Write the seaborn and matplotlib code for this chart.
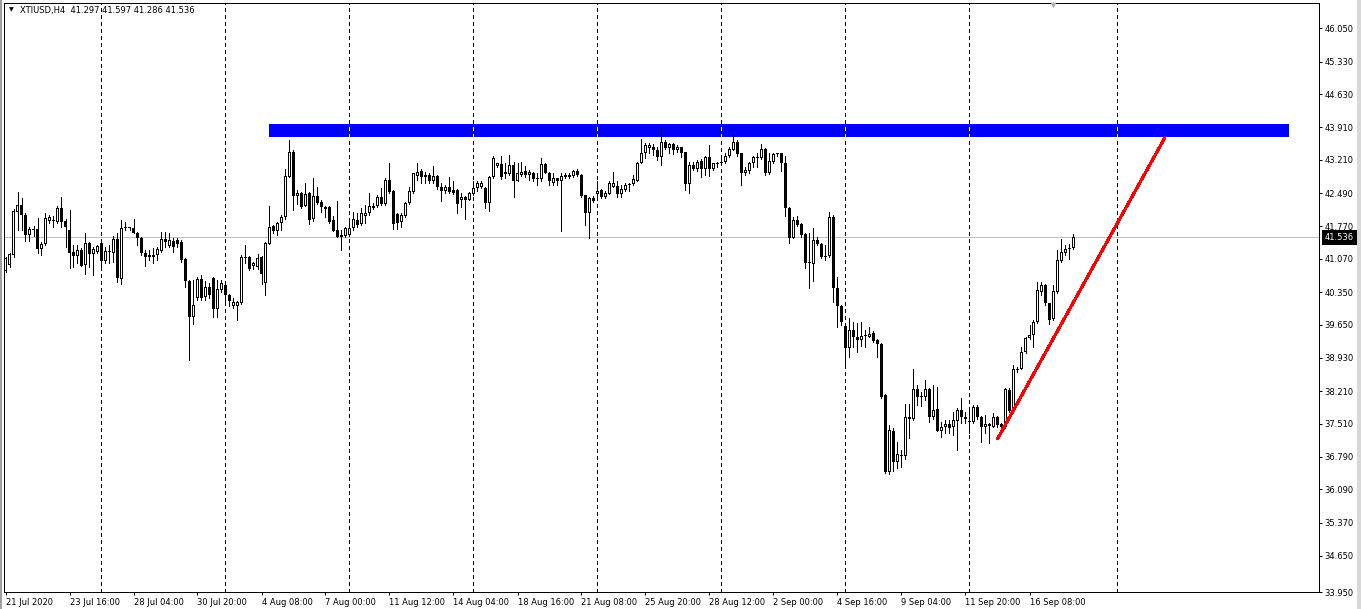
import numpy as np
import pandas as pd
import matplotlib
matplotlib.use("Agg")
import matplotlib.pyplot as plt
import matplotlib.transforms as mtransforms
from matplotlib.patches import Rectangle
import seaborn as sns

# ---------------- data ----------------
symbol = "XTIUSD,H4"

opens = [
    40.81, 40.93, 41.15, 42.09, 42.23, 42.02, 41.58, 41.71, 41.71, 41.28,
    41.38, 41.89, 41.89, 41.87, 42.16, 41.89, 41.69, 41.22, 41.13, 41.26,
    40.94, 41.42, 41.17, 41.22, 41.42, 41.03, 41.22, 41.20, 41.49, 40.63,
    41.73, 41.74, 41.73, 41.63, 41.51, 41.19, 41.11, 41.15, 41.15, 41.24,
    41.49, 41.35, 41.46, 41.48, 41.44, 41.06, 40.58, 39.82, 40.22, 40.63,
    40.24, 40.47, 40.66, 39.98, 40.40, 40.50, 40.29, 40.05, 40.05, 40.11,
    41.10, 41.10, 40.92, 40.89, 41.10, 40.54, 41.40, 41.78, 41.68, 41.84,
    41.97, 42.84, 43.38, 42.43, 42.49, 42.21, 42.50, 41.92, 42.43, 42.30,
    42.18, 42.18, 41.91, 41.69, 41.58, 41.56, 41.58, 41.73, 41.91, 41.82,
    41.99, 42.05, 42.16, 42.20, 42.41, 42.25, 42.77, 42.54, 42.04, 41.87,
    41.99, 42.27, 42.52, 42.86, 42.97, 42.88, 42.88, 42.74, 42.86, 42.62,
    42.54, 42.62, 42.56, 42.56, 42.34, 42.41, 42.35, 42.47, 42.59, 42.62,
    42.59, 42.28, 42.83, 43.07, 43.11, 42.95, 42.90, 43.10, 42.76, 42.88,
    42.97, 42.88, 42.93, 42.79, 42.79, 43.12, 42.93, 42.71, 42.81, 42.76,
    42.84, 42.83, 42.86, 42.97, 42.88, 42.45, 42.07, 42.39, 42.47, 42.56,
    42.40, 42.47, 42.63, 42.64, 42.47, 42.56, 42.66, 42.69, 42.76, 43.15,
    43.35, 43.46, 43.49, 43.42, 43.26, 43.60, 43.46, 43.55, 43.42, 43.48,
    43.37, 42.69, 43.10, 43.00, 43.19, 43.02, 43.26, 43.02, 43.12, 43.13,
    43.17, 43.28, 43.42, 43.60, 43.35, 42.93, 42.97, 43.13, 43.26, 43.24,
    43.44, 42.92, 43.17, 43.33, 43.35, 43.15, 42.16, 41.53, 41.91, 41.82,
    41.60, 40.97, 40.96, 41.48, 41.40, 41.14, 41.14, 41.98, 40.43, 40.06,
    39.62, 39.14, 39.53, 39.38, 39.32, 39.40, 39.39, 39.46, 39.32, 39.23,
    38.13, 36.47, 37.36, 36.69, 36.81, 36.81, 37.66, 37.60, 38.25, 38.10,
    38.09, 38.25, 37.65, 37.82, 37.36, 37.43, 37.50, 37.43, 37.57, 37.80,
    37.66, 37.55, 37.55, 37.86, 37.66, 37.44, 37.50, 37.44, 37.66, 37.50,
    37.43, 38.24, 37.79, 38.67, 38.70, 39.06, 39.35, 39.42, 39.71, 40.36,
    40.50, 40.11, 39.76, 40.36, 41.03, 41.20, 41.30, 41.297,
]
highs = [
    41.11, 41.20, 42.14, 42.52, 42.38, 42.05, 41.76, 41.78, 41.95, 41.44,
    42.05, 42.02, 41.99, 42.20, 42.41, 41.92, 42.12, 41.37, 41.37, 41.30,
    41.62, 41.44, 41.33, 41.37, 41.44, 41.33, 41.37, 41.56, 41.62, 41.91,
    41.87, 41.76, 41.92, 41.65, 41.55, 41.26, 41.26, 41.30, 41.33, 41.65,
    41.65, 41.62, 41.51, 41.51, 41.48, 41.08, 40.61, 40.61, 40.68, 40.72,
    40.58, 40.54, 40.68, 40.61, 40.61, 40.54, 40.32, 40.22, 40.16, 41.15,
    41.37, 41.13, 41.01, 41.17, 41.13, 41.44, 42.20, 41.80, 41.87, 42.02,
    43.02, 43.64, 43.41, 42.56, 42.52, 42.70, 42.52, 42.81, 42.63, 42.34,
    42.21, 42.21, 41.99, 42.32, 41.69, 41.76, 41.95, 42.09, 42.05, 42.16,
    42.23, 42.49, 42.27, 42.45, 42.59, 42.81, 43.13, 42.56, 42.05, 42.05,
    42.30, 42.63, 42.93, 43.15, 43.02, 42.95, 42.92, 43.08, 42.88, 42.70,
    42.66, 42.84, 42.74, 42.57, 42.49, 42.43, 42.52, 42.74, 42.74, 42.74,
    42.62, 42.86, 43.28, 43.15, 43.28, 43.13, 43.31, 43.17, 43.13, 43.17,
    43.07, 42.99, 42.95, 42.92, 43.24, 43.13, 42.95, 42.92, 42.82, 42.92,
    42.92, 42.92, 42.99, 43.00, 42.90, 42.45, 42.41, 42.43, 42.76, 42.57,
    42.54, 42.74, 42.95, 42.74, 42.66, 42.70, 42.71, 42.88, 43.17, 43.65,
    43.57, 43.57, 43.55, 43.49, 43.87, 43.64, 43.58, 43.57, 43.53, 43.49,
    43.38, 43.17, 43.17, 43.20, 43.22, 43.28, 43.53, 43.15, 43.17, 43.26,
    43.35, 43.48, 43.75, 43.64, 43.36, 43.06, 43.17, 43.29, 43.35, 43.56,
    43.46, 43.35, 43.35, 43.36, 43.36, 43.28, 42.18, 41.98, 41.99, 41.84,
    41.62, 41.62, 41.73, 41.55, 41.42, 41.37, 42.09, 42.02, 40.68, 40.07,
    39.64, 39.79, 39.71, 39.68, 39.71, 39.53, 39.60, 39.50, 39.33, 39.26,
    38.15, 37.48, 37.41, 37.12, 36.94, 37.93, 37.93, 38.68, 38.34, 38.20,
    38.45, 38.27, 38.34, 38.31, 37.55, 37.59, 37.59, 37.75, 37.84, 38.06,
    37.77, 37.87, 37.91, 37.91, 37.67, 37.70, 37.53, 37.73, 37.67, 37.53,
    38.27, 38.27, 38.78, 38.74, 39.17, 39.39, 39.64, 39.75, 40.57, 40.57,
    40.52, 40.12, 40.50, 41.26, 41.49, 41.37, 41.40, 41.597,
]
lows = [
    40.79, 40.89, 41.11, 41.69, 41.69, 41.46, 41.46, 41.56, 41.19, 41.15,
    41.37, 41.85, 41.75, 41.85, 41.76, 41.33, 40.87, 40.89, 40.97, 40.92,
    40.74, 40.90, 40.72, 41.20, 40.92, 40.97, 40.99, 41.01, 40.57, 40.53,
    41.69, 41.69, 41.62, 41.37, 41.15, 40.92, 41.04, 40.97, 41.04, 41.22,
    41.33, 41.33, 41.22, 41.33, 41.01, 40.47, 38.88, 39.66, 40.19, 40.18,
    40.18, 40.22, 39.82, 39.82, 40.36, 40.11, 40.04, 40.00, 39.75, 40.10,
    40.97, 40.83, 40.84, 40.84, 40.53, 40.29, 41.39, 41.62, 41.58, 41.69,
    41.94, 42.83, 42.12, 42.25, 42.16, 42.20, 41.82, 41.89, 42.25, 42.09,
    41.98, 41.85, 41.66, 41.54, 41.26, 41.55, 41.56, 41.69, 41.76, 41.80,
    41.84, 42.02, 42.14, 42.18, 42.23, 42.23, 42.50, 41.71, 41.71, 41.75,
    41.98, 42.25, 42.50, 42.77, 42.71, 42.71, 42.70, 42.70, 42.57, 42.32,
    42.50, 42.50, 42.47, 42.05, 42.18, 41.92, 42.34, 42.45, 42.54, 42.59,
    42.16, 42.11, 42.81, 43.05, 42.79, 42.81, 42.88, 42.41, 42.74, 42.86,
    42.84, 42.77, 42.76, 42.66, 42.76, 42.92, 42.66, 42.66, 42.66, 41.68,
    42.81, 42.81, 42.84, 42.86, 42.41, 41.80, 41.51, 42.30, 42.41, 42.38,
    42.38, 42.47, 42.62, 42.40, 42.40, 42.54, 42.54, 42.66, 42.74, 43.13,
    43.24, 43.35, 43.31, 43.20, 43.10, 43.44, 43.35, 43.33, 43.38, 43.26,
    42.56, 42.49, 42.99, 42.97, 42.83, 42.88, 42.86, 42.99, 43.05, 43.10,
    43.15, 43.26, 43.41, 43.29, 42.66, 42.88, 42.92, 43.06, 43.06, 43.22,
    42.88, 42.90, 43.15, 43.29, 42.97, 42.00, 41.42, 41.51, 41.78, 41.55,
    40.87, 40.45, 40.60, 41.37, 41.08, 41.04, 41.11, 40.14, 39.60, 39.64,
    38.80, 38.94, 39.17, 39.06, 39.19, 39.17, 39.37, 39.28, 38.94, 38.06,
    36.44, 36.42, 36.49, 36.55, 36.58, 36.74, 37.19, 37.59, 37.91, 37.89,
    38.02, 37.55, 37.62, 37.34, 37.21, 37.30, 37.30, 37.26, 36.94, 37.52,
    37.52, 37.30, 37.53, 37.62, 37.12, 37.30, 37.10, 37.43, 37.44, 37.41,
    37.41, 37.77, 37.77, 38.63, 38.68, 39.04, 39.33, 39.17, 39.69, 40.29,
    40.07, 39.66, 39.75, 40.34, 41.01, 41.15, 41.06, 41.286,
]
closes = [
    41.08, 41.17, 42.10, 42.23, 42.02, 41.58, 41.71, 41.70, 41.28, 41.38,
    41.95, 41.97, 41.90, 42.16, 41.87, 41.76, 41.20, 41.13, 41.26, 40.92,
    41.42, 41.17, 41.28, 41.35, 41.03, 41.24, 41.23, 41.49, 40.65, 41.73,
    41.74, 41.73, 41.63, 41.51, 41.19, 41.11, 41.15, 41.11, 41.28, 41.49,
    41.44, 41.48, 41.33, 41.40, 41.04, 40.58, 39.82, 40.07, 40.63, 40.22,
    40.47, 40.29, 39.98, 40.41, 40.55, 40.29, 40.16, 40.14, 40.14, 41.11,
    41.09, 40.84, 40.97, 41.08, 40.74, 41.42, 41.76, 41.68, 41.85, 41.98,
    42.86, 43.38, 42.43, 42.50, 42.18, 42.47, 41.91, 42.43, 42.28, 42.18,
    42.14, 41.87, 41.68, 41.55, 41.54, 41.73, 41.73, 41.92, 41.80, 42.05,
    42.07, 42.21, 42.21, 42.41, 42.25, 42.77, 42.52, 41.82, 41.85, 42.02,
    42.28, 42.54, 42.92, 42.95, 42.84, 42.84, 42.74, 42.86, 42.62, 42.54,
    42.62, 42.52, 42.50, 42.25, 42.40, 42.35, 42.49, 42.59, 42.70, 42.70,
    42.28, 42.84, 43.24, 43.13, 42.84, 42.90, 43.10, 42.76, 42.93, 42.95,
    42.88, 42.95, 42.79, 42.80, 43.12, 42.93, 42.74, 42.81, 42.74, 42.86,
    42.88, 42.88, 42.97, 42.88, 42.43, 42.07, 42.38, 42.32, 42.54, 42.40,
    42.50, 42.70, 42.70, 42.47, 42.57, 42.66, 42.67, 42.79, 43.15, 43.35,
    43.53, 43.53, 43.42, 43.26, 43.60, 43.46, 43.55, 43.42, 43.49, 43.35,
    42.69, 43.10, 43.00, 43.17, 43.02, 43.26, 43.02, 43.13, 43.11, 43.15,
    43.29, 43.44, 43.60, 43.33, 42.93, 42.99, 43.15, 43.26, 43.24, 43.44,
    42.92, 43.19, 43.33, 43.34, 43.13, 42.16, 41.51, 41.91, 41.80, 41.58,
    40.97, 40.98, 41.48, 41.39, 41.11, 41.11, 41.98, 40.43, 40.04, 39.71,
    39.14, 39.53, 39.37, 39.32, 39.40, 39.41, 39.45, 39.30, 39.23, 38.09,
    36.47, 37.37, 36.69, 36.85, 36.83, 37.66, 37.62, 38.25, 38.08, 38.08,
    38.25, 37.65, 37.80, 37.36, 37.43, 37.50, 37.41, 37.59, 37.80, 37.65,
    37.60, 37.56, 37.86, 37.65, 37.44, 37.50, 37.45, 37.65, 37.48, 37.43,
    38.25, 37.79, 38.68, 38.70, 39.06, 39.35, 39.42, 39.71, 40.40, 40.50,
    40.11, 39.75, 40.38, 41.04, 41.22, 41.28, 41.29, 41.536,
]

date_labels = ["21 Jul 2020", "23 Jul 16:00", "28 Jul 04:00", "30 Jul 20:00",
               "4 Aug 08:00", "7 Aug 00:00", "11 Aug 12:00", "14 Aug 04:00",
               "18 Aug 16:00", "21 Aug 08:00", "25 Aug 20:00", "28 Aug 12:00",
               "2 Sep 00:00", "4 Sep 16:00", "9 Sep 04:00", "11 Sep 20:00",
               "16 Sep 08:00"]
date_label_bars = [0, 16, 32, 48, 64, 80, 96, 112, 128, 144, 160, 176,
                   192, 208, 224, 240, 256]

price_ticks = [46.050, 45.330, 44.630, 43.910, 43.210, 42.490, 41.770,
               41.070, 40.350, 39.650, 38.930, 38.210, 37.510, 36.790,
               36.090, 35.370, 34.650]
bottom_price_label = "33.950"

zone_bars = [65.8, 320.8]          # resistance rectangle (bar index range)
zone_prices = [43.70, 43.98]       # resistance rectangle price range
trend_bars = [248.0, 289.8]        # red trend line end points
trend_prices = [37.18, 43.68]
grid_bars = [23.9, 54.9, 85.9, 116.9, 147.9, 178.9, 209.9, 240.9, 277.9]
shift_marker_bar = 262

# ---------------- figure ----------------
sns.set_theme(style="white")
plt.rcParams['font.family'] = ['DejaVu Sans']

W, H = 1361, 609
fig = plt.figure(figsize=(W / 100, H / 100), dpi=100, facecolor="white")
L_px, R_px, T_px, B_px = 4, 1319, 3, 592
ax = fig.add_axes([L_px / W, 1 - B_px / H, (R_px - L_px) / W, (B_px - T_px) / H])
ax.set_facecolor("white")

x_left, x_right = -0.375, 328.375
y_top, y_bot = 46.596, 33.872
ax.set_xlim(x_left, x_right)
ax.set_ylim(y_bot, y_top)
px_y = (y_top - y_bot) / (B_px - T_px)   # one pixel in price units

df = pd.DataFrame({"bar": np.arange(len(closes)), "open": opens,
                   "high": highs, "low": lows, "close": closes})
df["bull"] = df["close"] >= df["open"]
df["body_lo"] = df[["open", "close"]].min(axis=1)
df["body_h"] = (df["close"] - df["open"]).abs()

LW = 0.72
DASH = (0, (3, 3))
# current price line
ax.axhline(closes[-1], color="#c0c0c0", lw=LW, zorder=1, antialiased=False)

# vertical dashed grid
for gx in grid_bars:
    ax.axvline(gx, color="black", lw=LW, linestyle=DASH, zorder=0.8,
               antialiased=False)

# resistance zone
ax.fill_between(zone_bars, zone_prices[0], zone_prices[1], color="#0000ff",
                lw=0, zorder=2, antialiased=False)
gz = [g for g in grid_bars if zone_bars[0] <= g <= zone_bars[1]]
ax.vlines(gz, zone_prices[0], zone_prices[1], colors="#ffff00", lw=LW,
          linestyles=[DASH], zorder=2.5, antialiased=False)

# candles: wicks, outer black bodies, inner white fill for bullish bars
ax.vlines(df["bar"], df["low"], df["high"], colors="black", lw=LW,
          zorder=3, antialiased=False)
outer_h = np.maximum(df["body_h"], px_y)
ax.bar(df["bar"], outer_h, bottom=df["body_lo"], width=0.75,
       color="black", linewidth=0, zorder=4, antialiased=False)
bull = df[df["bull"] & (df["body_h"] > 2.2 * px_y)]
ax.bar(bull["bar"], bull["body_h"] - 2 * px_y, bottom=bull["body_lo"] + px_y,
       width=0.25, color="white", linewidth=0, zorder=5, antialiased=False)

# trend line
sns.lineplot(x=trend_bars, y=trend_prices, color="#ff0000", lw=1.5, ax=ax,
             zorder=6, estimator=None, sort=False, antialiased=False)

# chart shift marker
ax.plot([shift_marker_bar], [y_top - 2.2 * px_y], marker="v", ms=4.5,
        color="#b0b0b0", mec="none", zorder=7, clip_on=False)

# axes / ticks
for s in ax.spines.values():
    s.set_color("black")
    s.set_linewidth(LW)
    s.set_visible(True)
ax.yaxis.tick_right()
ax.set_yticks(price_ticks + [y_bot])
ax.set_yticklabels([f"{p:.3f}" for p in price_ticks] + [bottom_price_label])
ax.set_xticks(date_label_bars)
ax.set_xticklabels(date_labels, ha="left")
ax.tick_params(axis="y", which="both", direction="out", length=2.5,
               width=LW, colors="black", labelsize=6, pad=1.6,
               right=True, left=False, labelright=True, labelleft=False)
ax.tick_params(axis="x", which="both", direction="out", length=2.5,
               width=LW, colors="black", labelsize=6, pad=1.6, bottom=True)
ax.grid(False)
ax.set_xlabel("")
ax.set_ylabel("")

# current price label box
trans = mtransforms.blended_transform_factory(ax.transAxes, ax.transData)
ax.text(1 + 5.5 / (R_px - L_px), closes[-1], f"{closes[-1]:.3f}",
        transform=trans, ha="left", va="center", fontsize=6, color="white",
        zorder=10, clip_on=False,
        bbox=dict(boxstyle="square,pad=0.35", fc="black", ec="black", lw=0))

# header
fig.text(9 / W, 1 - 10 / H, "▼", fontsize=4.5, ha="left", va="center",
         color="black")
fig.text(20 / W, 1 - 11 / H,
         f"{symbol}  {opens[-1]:.3f} {highs[-1]:.3f} {lows[-1]:.3f} {closes[-1]:.3f}",
         fontsize=6, ha="left", va="center", color="black")

# window borders
fig.patches.append(Rectangle((0, 0), 2 / W, 1, transform=fig.transFigure,
                             fc="#a0a0a0", ec="none", zorder=0))
fig.patches.append(Rectangle((1 - 4 / W, 0), 4 / W, 1, transform=fig.transFigure,
                             fc="#d8d8d8", ec="none", zorder=0))

fig.savefig("out.png", dpi=100, facecolor="white")
